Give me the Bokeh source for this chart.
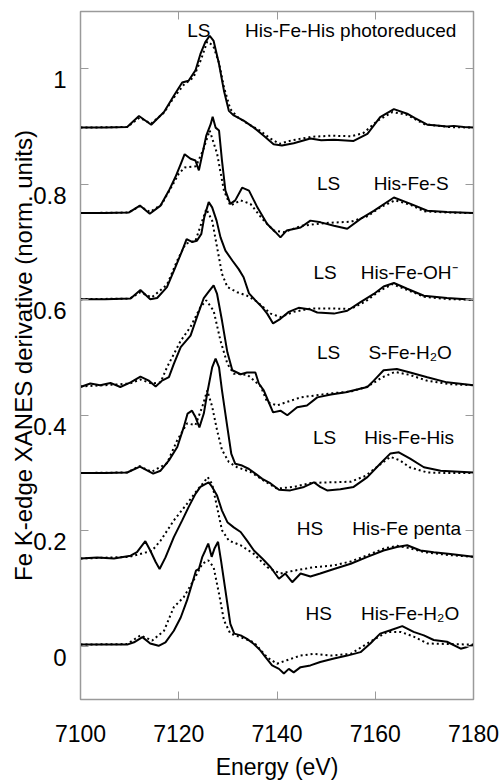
from bokeh.plotting import figure
from bokeh.models import Range1d, LinearAxis, Label, FixedTicker, CustomLabelingPolicy
from bokeh.embed import file_html
from bokeh.resources import INLINE

# ---------------- data ----------------
x_ticks = [7100, 7120, 7140, 7160, 7180]
y_ticks = [0, 0.2, 0.4, 0.6, 0.8, 1.0]
y_tick_labels = ["0", "0.2", "0.4", "0.6", "0.8", "1"]

# 1) LS His-Fe-His photoreduced
e_photo = [7100, 7105, 7109.5, 7111.9, 7114.4, 7117, 7119, 7120.7, 7122, 7123.4, 7124.4, 7125.4, 7126.3,
           7127.1, 7128.2, 7129.2, 7130.2, 7131.2, 7133.2, 7135.3, 7137.3, 7139.3, 7141, 7143.4, 7146.8,
           7149, 7151.6, 7155.6, 7158.4, 7161, 7163.8, 7166.5, 7168, 7170.6, 7172, 7174.6, 7176, 7178, 7180]
y_photo = [0.898, 0.898, 0.899, 0.918, 0.903, 0.925, 0.953, 0.976, 0.979, 0.997, 1.025, 1.046, 1.057,
           1.048, 1.008, 0.962, 0.927, 0.919, 0.910, 0.898, 0.884, 0.869, 0.867, 0.871, 0.879,
           0.876, 0.877, 0.875, 0.887, 0.916, 0.930, 0.922, 0.915, 0.903, 0.902, 0.900, 0.901, 0.899, 0.898]
ef_photo = [7100, 7109.5, 7112, 7114.4, 7117, 7119, 7121, 7123, 7124.5, 7125.8, 7127, 7128.2, 7129.2,
            7130.5, 7132, 7134, 7136.5, 7138.5, 7140.5, 7143, 7147, 7151, 7155, 7157.5, 7160.5, 7163.5,
            7166.5, 7170, 7175, 7180]
yf_photo = [0.898, 0.899, 0.915, 0.905, 0.924, 0.950, 0.972, 0.985, 1.015, 1.047, 1.040, 1.010, 0.968,
            0.930, 0.916, 0.905, 0.893, 0.880, 0.870, 0.876, 0.882, 0.884, 0.883, 0.888, 0.910, 0.925,
            0.920, 0.904, 0.899, 0.898]

# 2) LS His-Fe-S
e_hfs = [7100, 7105, 7109.8, 7112.1, 7114.1, 7116.3, 7118, 7119.3, 7120.4, 7121.2, 7122.4, 7123.4, 7124.1,
         7124.8, 7125.6, 7126.5, 7126.9, 7127.5, 7128.2, 7128.8, 7129.5, 7130.5, 7131.5, 7132.9, 7134.3,
         7136, 7138, 7139.7, 7140.7, 7142, 7144.8, 7146.8, 7148.9, 7151.6, 7154.3, 7157, 7159.7, 7163.8,
         7167.2, 7170.6, 7174.6, 7180]
y_hfs = [0.750, 0.750, 0.751, 0.763, 0.749, 0.763, 0.789, 0.812, 0.835, 0.852, 0.844, 0.841, 0.824,
         0.852, 0.884, 0.904, 0.917, 0.898, 0.893, 0.841, 0.789, 0.766, 0.772, 0.794, 0.789,
         0.760, 0.731, 0.717, 0.708, 0.720, 0.725, 0.737, 0.734, 0.728, 0.723, 0.740, 0.754, 0.777,
         0.766, 0.754, 0.752, 0.750]
ef_hfs = [7100, 7109.8, 7112, 7114.2, 7116.5, 7118.5, 7120, 7121.2, 7123.5, 7125, 7126.3, 7127.8, 7129.2,
          7130.5, 7132.6, 7134.6, 7137, 7139.3, 7141.4, 7145, 7150, 7155, 7158.5, 7161, 7164, 7167,
          7170, 7175, 7180]
yf_hfs = [0.750, 0.751, 0.762, 0.752, 0.765, 0.795, 0.818, 0.829, 0.831, 0.860, 0.893, 0.853, 0.789,
          0.763, 0.772, 0.766, 0.740, 0.720, 0.717, 0.728, 0.733, 0.735, 0.745, 0.760, 0.772, 0.765,
          0.753, 0.751, 0.750]

# 3) LS His-Fe-OH-
e_hfoh = [7100, 7105, 7110.2, 7112.2, 7114.2, 7115.6, 7117.6, 7119.3, 7120.7, 7121.6, 7122.7, 7123.7,
          7124.6, 7125.2, 7126.1, 7126.8, 7127.7, 7128.5, 7129.5, 7130.9, 7132.2, 7133.2, 7134.3, 7135.6,
          7137, 7138, 7139.2, 7140.7, 7142.4, 7144.4, 7146.8, 7148.2, 7151.6, 7154.3, 7157, 7159.7,
          7161.7, 7163.8, 7166.5, 7169.9, 7174.6, 7180]
y_hfoh = [0.601, 0.601, 0.602, 0.617, 0.601, 0.603, 0.622, 0.656, 0.685, 0.705, 0.700, 0.702,
          0.714, 0.743, 0.769, 0.760, 0.737, 0.708, 0.685, 0.668, 0.653, 0.639, 0.611, 0.599,
          0.587, 0.576, 0.559, 0.567, 0.579, 0.586, 0.583, 0.578, 0.576, 0.581, 0.596, 0.610,
          0.623, 0.629, 0.619, 0.607, 0.603, 0.600]
ef_hfoh = [7100, 7110, 7112.2, 7114.5, 7117.6, 7119.7, 7121.4, 7123.4, 7124.8, 7125.6, 7126.8, 7127.8,
           7128.8, 7129.9, 7131.9, 7133.9, 7135.9, 7138.7, 7140.7, 7143.4, 7147, 7151, 7155, 7158, 7161,
           7163.5, 7166.5, 7170, 7175, 7180]
yf_hfoh = [0.601, 0.602, 0.613, 0.604, 0.626, 0.668, 0.697, 0.702, 0.737, 0.757, 0.737, 0.691,
           0.645, 0.622, 0.613, 0.607, 0.597, 0.576, 0.570, 0.579, 0.585, 0.585, 0.584, 0.597, 0.616,
           0.627, 0.617, 0.605, 0.601, 0.600]

# 4) LS S-Fe-H2O
e_sfw = [7100, 7102, 7104, 7106.1, 7108.1, 7110.2, 7112.2, 7113.9, 7115.3, 7116.6, 7118, 7119, 7120.4,
         7122.4, 7123.7, 7125.1, 7126.1, 7127.1, 7127.8, 7128.8, 7129.9, 7130.9, 7132.6, 7133.9, 7135.6,
         7136.3, 7137.3, 7138.3, 7139.2, 7140.7, 7142.1, 7144.1, 7146.1, 7148.2, 7151, 7154, 7156.5,
         7158.4, 7159.7, 7161.7, 7164.4, 7167.1, 7170.6, 7174.6, 7180]
y_sfw = [0.449, 0.455, 0.452, 0.456, 0.449, 0.457, 0.467, 0.460, 0.450, 0.460, 0.466, 0.489, 0.518,
         0.538, 0.570, 0.603, 0.614, 0.625, 0.610, 0.564, 0.509, 0.478, 0.471, 0.474, 0.474,
         0.455, 0.443, 0.423, 0.405, 0.408, 0.400, 0.414, 0.417, 0.431, 0.436, 0.440, 0.445,
         0.449, 0.460, 0.478, 0.480, 0.474, 0.466, 0.457, 0.452]
ef_sfw = [7100, 7105, 7110, 7112.2, 7114.5, 7116.3, 7117.6, 7119, 7120.4, 7122.4, 7124.4, 7125.6, 7127.1,
          7128.5, 7129.9, 7131.2, 7134, 7136.7, 7138, 7140, 7142, 7144.8, 7147.5, 7151, 7155, 7158.5,
          7161.5, 7164, 7167, 7170.5, 7175, 7180]
yf_sfw = [0.450, 0.452, 0.455, 0.462, 0.455, 0.457, 0.483, 0.506, 0.529, 0.553, 0.587, 0.599, 0.581,
          0.529, 0.489, 0.472, 0.470, 0.450, 0.423, 0.417, 0.423, 0.431, 0.434, 0.438, 0.441, 0.450,
          0.466, 0.475, 0.470, 0.460, 0.454, 0.452]

# 5) LS His-Fe-His
e_hfh = [7100, 7105, 7109.5, 7112.1, 7114.8, 7116.3, 7118, 7119.7, 7121, 7121.8, 7122.7, 7123.4, 7124.2,
         7125.1, 7125.9, 7126.8, 7127.5, 7128.2, 7128.8, 7129.9, 7130.7, 7131.5, 7132.9, 7134.3, 7135.6,
         7137, 7138.7, 7140.4, 7142.7, 7145.5, 7147.5, 7148.8, 7150.2, 7152.9, 7155.6, 7158.4, 7161,
         7163.1, 7164.8, 7167.1, 7169.9, 7173.3, 7180]
y_hfh = [0.300, 0.300, 0.301, 0.311, 0.299, 0.304, 0.322, 0.345, 0.379, 0.403, 0.408, 0.397, 0.379,
         0.403, 0.443, 0.483, 0.498, 0.483, 0.443, 0.379, 0.333, 0.316, 0.313, 0.307, 0.299,
         0.290, 0.282, 0.271, 0.270, 0.276, 0.284, 0.276, 0.270, 0.272, 0.276, 0.293, 0.316,
         0.334, 0.336, 0.325, 0.310, 0.304, 0.301]
ef_hfh = [7100, 7109.5, 7112, 7114.5, 7117.6, 7119.7, 7121.7, 7123.4, 7124.8, 7125.8, 7126.8, 7127.8,
          7128.8, 7130.2, 7131.9, 7134.6, 7137.3, 7140, 7143.4, 7147, 7151, 7155, 7158, 7161, 7163.1,
          7165, 7167, 7170.6, 7175, 7180]
yf_hfh = [0.300, 0.301, 0.312, 0.302, 0.317, 0.357, 0.386, 0.383, 0.415, 0.443, 0.415, 0.374,
          0.340, 0.319, 0.310, 0.302, 0.287, 0.273, 0.276, 0.283, 0.284, 0.285, 0.295, 0.315, 0.328,
          0.322, 0.310, 0.301, 0.300, 0.300]

# 6) HS His-Fe penta
e_pen = [7100, 7103.4, 7106.8, 7110.2, 7111.5, 7113.2, 7114.2, 7115.3, 7116.1, 7117.3, 7119, 7120.7,
         7122, 7123.4, 7124.4, 7125.4, 7126.1, 7126.8, 7127.8, 7128.8, 7129.9, 7131.2, 7132.6, 7133.9,
         7135.3, 7137, 7138.7, 7140.4, 7141.7, 7143.1, 7144.8, 7146.8, 7148.8, 7151.6, 7155, 7158.4,
         7161.7, 7164.4, 7166.5, 7169.2, 7171.9, 7175.3, 7180]
y_pen = [0.152, 0.154, 0.152, 0.157, 0.163, 0.182, 0.166, 0.146, 0.134, 0.154, 0.189, 0.218,
         0.241, 0.264, 0.276, 0.281, 0.284, 0.276, 0.261, 0.235, 0.215, 0.206, 0.198, 0.183,
         0.166, 0.152, 0.137, 0.117, 0.126, 0.111, 0.126, 0.121, 0.126, 0.134, 0.143, 0.155,
         0.166, 0.172, 0.175, 0.166, 0.163, 0.160, 0.155]
ef_pen = [7100, 7110, 7113, 7114.5, 7116.3, 7119, 7121.7, 7123.7, 7125.1, 7125.9, 7126.8, 7127.8,
          7128.8, 7130.2, 7132.6, 7135.3, 7138, 7140.7, 7143.4, 7147.5, 7151.5, 7155, 7158.5, 7162,
          7164.5, 7167, 7170, 7175, 7180]
yf_pen = [0.152, 0.155, 0.162, 0.165, 0.183, 0.218, 0.247, 0.270, 0.284, 0.293, 0.281, 0.241,
          0.201, 0.183, 0.175, 0.160, 0.137, 0.126, 0.131, 0.137, 0.140, 0.147, 0.158, 0.170,
          0.174, 0.170, 0.163, 0.158, 0.155]

# 7) HS His-Fe-H2O
e_hfw = [7100, 7105, 7109.5, 7110.9, 7112.6, 7114.2, 7115.9, 7117.3, 7119, 7120.4, 7121.7, 7122.7,
         7123.5, 7124.1, 7124.8, 7125.4, 7126, 7126.7, 7127.3, 7128, 7128.6, 7129.5, 7130.5, 7131.3,
         7132.6, 7133.9, 7135.3, 7136.6, 7137.7, 7139, 7140.4, 7141.4, 7142.4, 7143.4, 7144.8, 7146.8,
         7148.8, 7151.6, 7154.3, 7157, 7159, 7161, 7163.1, 7165.5, 7167.8, 7169.9, 7171.9, 7174.6,
         7177.4, 7178.7, 7180]
y_hfw = [0.003, 0.003, 0.003, 0.007, 0.016, 0.005, 0.001, 0.007, 0.027, 0.050, 0.080, 0.108,
         0.131, 0.134, 0.155, 0.166, 0.178, 0.155, 0.170, 0.181, 0.149, 0.097, 0.039, 0.022,
         0.019, 0.013, 0.004, -0.007, -0.019, -0.033, -0.039, -0.047, -0.039, -0.045, -0.036, -0.033,
         -0.027, -0.021, -0.016, -0.010, 0.005, 0.022, 0.028, 0.035, 0.025, 0.019, 0.011, 0.008,
         -0.004, -0.001, 0.003]
ef_hfw = [7100, 7109.5, 7112.2, 7114.6, 7117, 7119, 7121, 7123, 7124.8, 7126, 7127.1, 7128.2, 7129.2,
          7130.5, 7132.6, 7135.3, 7138, 7140, 7142, 7144.8, 7147.5, 7151, 7155, 7158.4, 7162.4, 7165.2,
          7167.8, 7170.6, 7175, 7180]
yf_hfw = [0.003, 0.004, 0.019, 0.010, 0.027, 0.068, 0.085, 0.114, 0.143, 0.149, 0.137, 0.091, 0.045,
          0.022, 0.016, 0.007, -0.019, -0.030, -0.024, -0.016, -0.013, -0.016, -0.013, 0.005, 0.025,
          0.025, 0.017, 0.005, 0.004, 0.003]

spin_states = ["LS", "LS", "LS", "LS", "LS", "HS", "HS"]
names = ["His-Fe-His photoreduced", "His-Fe-S", "His-Fe-OH\u207b", "S-Fe-H\u2082O",
         "His-Fe-His", "His-Fe penta", "His-Fe-H\u2082O"]

# annotation placement (data coords of text centres)
spin_x = [7124.1, 7150.5, 7149.8, 7150.5, 7149.7, 7146.7, 7148.5]
name_x = [7155.0, 7167.3, 7166.9, 7167.1, 7166.9, 7166.4, 7167.1]
label_y = [1.066, 0.801, 0.647, 0.509, 0.362, 0.204, 0.057]

curves = [
    (e_photo, y_photo, ef_photo, yf_photo),
    (e_hfs, y_hfs, ef_hfs, yf_hfs),
    (e_hfoh, y_hfoh, ef_hfoh, yf_hfoh),
    (e_sfw, y_sfw, ef_sfw, yf_sfw),
    (e_hfh, y_hfh, ef_hfh, yf_hfh),
    (e_pen, y_pen, ef_pen, yf_pen),
    (e_hfw, y_hfw, ef_hfw, yf_hfw),
]

# ---------------- figure ----------------
FONT = "Liberation Sans"
GREY = "#9a9a9a"
Y0, Y1 = -0.092, 1.099
LABEL_SHIFT = 0.019   # y tick labels sit ~11 px below their ticks in the reference

p = figure(width=504, height=784, output_backend="svg", toolbar_location=None,
           x_range=Range1d(7100, 7180), y_range=Range1d(Y0, Y1),
           min_border_left=80, min_border_right=31, min_border_top=11, min_border_bottom=85)
p.background_fill_color = "white"
p.border_fill_color = "white"
p.grid.visible = False
p.outline_line_color = GREY
p.outline_line_width = 1.5
p.extra_y_ranges = {"lab": Range1d(Y0 + LABEL_SHIFT, Y1 + LABEL_SHIFT)}


def hide_labels(ax):
    ax.major_label_policy = CustomLabelingPolicy(code="return []")
    ax.major_label_text_font_size = "1px"
    ax.major_label_standoff = 0


xa = p.xaxis[0]
xa.ticker = FixedTicker(ticks=x_ticks)
xa.major_tick_in = 8
xa.major_tick_out = 0
xa.minor_tick_line_color = None
xa.axis_line_color = GREY
xa.major_tick_line_color = GREY
xa.major_label_text_font = FONT
xa.major_label_text_font_size = "23px"
xa.major_label_text_color = "black"
xa.major_label_standoff = 25
xa.axis_label = "Energy (eV)"
xa.axis_label_text_font = FONT
xa.axis_label_text_font_size = "23px"
xa.axis_label_text_font_style = "normal"
xa.axis_label_text_color = "black"
xa.axis_label_standoff = 9

# left: inner ticks only
ya = p.yaxis[0]
ya.ticker = FixedTicker(ticks=y_ticks)
ya.major_tick_in = 8
ya.major_tick_out = 0
ya.minor_tick_line_color = None
ya.axis_line_color = GREY
ya.major_tick_line_color = GREY
hide_labels(ya)

# left: tick labels (shifted range) + axis title
ylab = LinearAxis(y_range_name="lab", ticker=FixedTicker(ticks=y_ticks),
                  major_label_overrides={v: t for v, t in zip(y_ticks, y_tick_labels)},
                  major_tick_line_color=None, minor_tick_line_color=None, axis_line_color=None,
                  major_tick_in=0, major_tick_out=0,
                  major_label_text_font=FONT, major_label_text_font_size="24px",
                  major_label_text_color="black", major_label_standoff=10,
                  axis_label="Fe K-edge XANES derivative (norm. units)",
                  axis_label_text_font=FONT, axis_label_text_font_size="24px",
                  axis_label_text_font_style="normal", axis_label_text_color="black",
                  axis_label_standoff=-7)
p.add_layout(ylab, "left")

top = LinearAxis(ticker=FixedTicker(ticks=x_ticks), major_tick_in=8, major_tick_out=0,
                 minor_tick_line_color=None, axis_line_color=GREY, major_tick_line_color=GREY)
hide_labels(top)
p.add_layout(top, "above")
right = LinearAxis(ticker=FixedTicker(ticks=y_ticks), major_tick_in=8, major_tick_out=0,
                   minor_tick_line_color=None, axis_line_color=GREY, major_tick_line_color=GREY)
hide_labels(right)
p.add_layout(right, "right")

for e, y, ef, yf in curves:
    p.line(ef, yf, line_color="black", line_width=2, line_dash="2 3")
    p.line(e, y, line_color="black", line_width=2)

for s, n, sx, nx, ly in zip(spin_states, names, spin_x, name_x, label_y):
    p.add_layout(Label(x=sx, y=ly, text=s, text_align="center", text_baseline="middle",
                       text_font=FONT, text_font_size="19px", text_color="black"))
    p.add_layout(Label(x=nx, y=ly, text=n, text_align="center", text_baseline="middle",
                       text_font=FONT, text_font_size="19px", text_color="black"))

open("out.html", "w").write(file_html(p, INLINE))
